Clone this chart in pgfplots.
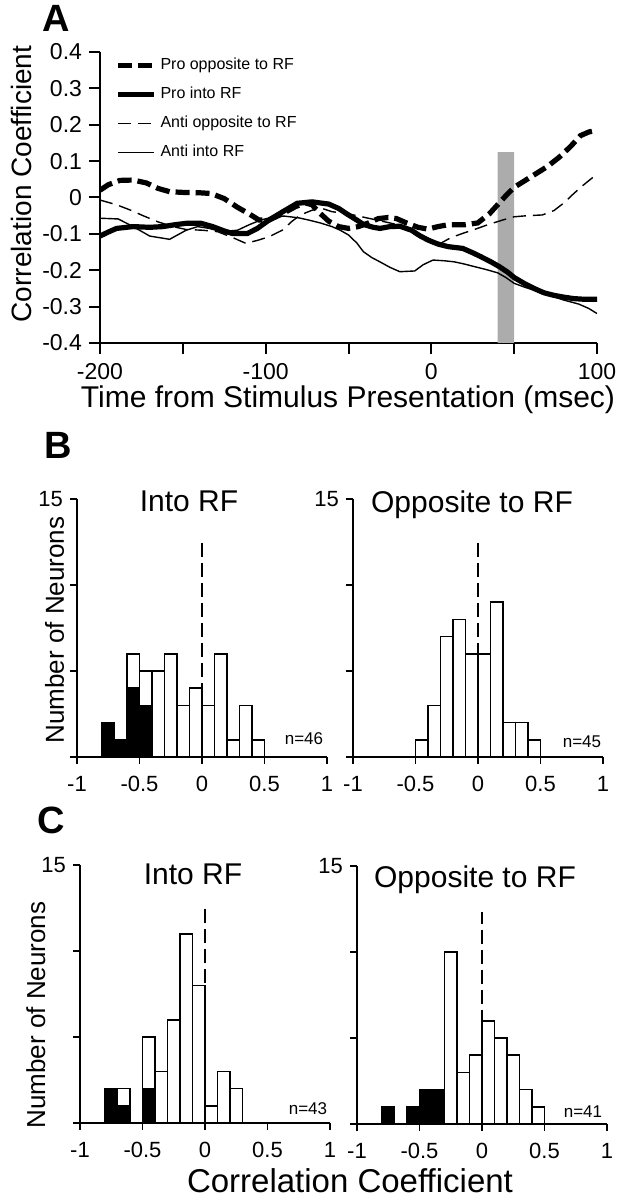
\documentclass[border=0pt]{standalone}
\usepackage{fontspec}
\setmainfont{Liberation Sans}
\usepackage{pgfplots}
\pgfplotsset{compat=1.18}

\pgfplotsset{
  hist/.style={
    scale only axis, width=125pt, height=129pt, anchor=south west,
    xmin=-1, xmax=1, ymin=0, ymax=15,
    axis x line=bottom, axis y line=left, axis line style={-, line width=0.9pt},
    xtick={-1,-0.5,0,0.5,1}, xticklabels={-1,-0.5,0,0.5,1},
    ytick={0,5,10,15}, yticklabels={,,,15},
    tick align=outside, major tick length=3.5pt,
    tick style={line width=0.9pt, black},
    ticklabel style={font=\fontsize{11}{13}\selectfont},
    xticklabel style={yshift=-2.5pt},
    /pgf/number format/assume math mode=true,
    clip=false,
  },
  tot/.style={ybar, bar width=0.1, bar shift=0pt, fill=white, draw=black, line width=0.8pt},
  blk/.style={ybar, bar width=0.1, bar shift=0pt, fill=black, draw=black, line width=0.8pt},
  zero/.style={line width=1.1pt, dash pattern=on 7pt off 3pt},
}

\begin{document}
\begin{tikzpicture}
\path[use as bounding box] (0pt,0pt) rectangle (310pt,600pt);

% ---------------- Panel A ----------------
\begin{axis}[
  at={(50pt,428.5pt)}, anchor=south west, scale only axis, width=248.5pt, height=145.5pt,
  xmin=-200, xmax=100, ymin=-0.4, ymax=0.4,
  axis x line=bottom, axis y line=left, axis line style={-, line width=1pt},
  xtick={-200,-150,-100,-50,0,50,100}, xticklabels={-200,,-100,,0,,100},
  ytick={-0.4,-0.3,-0.2,-0.1,0,0.1,0.2,0.3,0.4},
  yticklabels={-0.4,-0.3,-0.2,-0.1,0,0.1,0.2,0.3,0.4},
  tick align=outside, major tick length=5.5pt,
  tick style={line width=1pt, black},
  ticklabel style={font=\fontsize{11.5}{13}\selectfont},
  xticklabel style={yshift=-1pt},
  /pgf/number format/assume math mode=true,
  legend style={at={(axis description cs:0.03,0.995)}, anchor=north west, draw=none, fill=none,
    font=\fontsize{8}{9.6}\selectfont, row sep=3pt, inner sep=0pt,
    nodes={text height=6pt, text depth=1.5pt, inner sep=2pt}},
  legend cell align=left,
  legend image code/.code={\draw[#1] (0pt,0pt) -- (18pt,0pt);},
]
\addplot[fill=gray!65, draw=none, forget plot] coordinates {(40,-0.4) (40,0.125) (50,0.125) (50,-0.4) (40,-0.4)};

\addplot[line width=2.6pt, dash pattern=on 7pt off 3pt] coordinates {
(-200,0.02) (-195,0.035) (-188,0.047) (-180,0.048) (-172,0.04) (-165,0.025) (-158,0.016)
(-150,0.014) (-140,0.013) (-133,0.011) (-125,-0.003) (-117,-0.027) (-110,-0.045) (-104,-0.062)
(-98,-0.062) (-90,-0.045) (-82,-0.025) (-76,-0.015) (-72,-0.02) (-68,-0.04) (-62,-0.065)
(-56,-0.08) (-50,-0.085) (-44,-0.08) (-38,-0.07) (-32,-0.058) (-26,-0.055) (-21,-0.058)
(-15,-0.07) (-8,-0.082) (-2,-0.087) (4,-0.08) (10,-0.075) (20,-0.075) (28,-0.07)
(35,-0.045) (40,-0.02) (45,0.005) (50,0.028) (56,0.045) (63,0.065) (70,0.085) (77,0.11)
(84,0.14) (90,0.17) (95,0.18) (100,0.185)};
\addlegendentry{Pro opposite to RF}

\addplot[line width=2.6pt] coordinates {
(-200,-0.106) (-195,-0.095) (-190,-0.085) (-180,-0.08) (-170,-0.082) (-162,-0.08) (-155,-0.075)
(-148,-0.071) (-139,-0.071) (-132,-0.08) (-125,-0.092) (-120,-0.099) (-111,-0.099) (-105,-0.085)
(-98,-0.062) (-90,-0.04) (-81,-0.016) (-72,-0.012) (-62,-0.018) (-56,-0.03) (-50,-0.048)
(-45,-0.062) (-41,-0.074) (-35,-0.082) (-31,-0.085) (-25,-0.08) (-19,-0.079) (-12,-0.09)
(-7,-0.105) (-2,-0.117) (4,-0.128) (10,-0.135) (19,-0.14) (25,-0.152) (30,-0.163) (36,-0.177)
(41,-0.19) (46,-0.205) (50,-0.22) (56,-0.236) (62,-0.25) (68,-0.262) (74,-0.269) (80,-0.274)
(86,-0.278) (93,-0.28) (100,-0.28)};
\addlegendentry{Pro into RF}

\addplot[line width=0.7pt, dash pattern=on 6.5pt off 3.5pt] coordinates {
(-200,-0.007) (-190,-0.02) (-182,-0.034) (-174,-0.05) (-165,-0.067) (-156,-0.08) (-148,-0.088)
(-138,-0.09) (-129,-0.094) (-120,-0.11) (-112,-0.126) (-105,-0.118) (-98,-0.108) (-90,-0.09)
(-84,-0.065) (-79,-0.048) (-72,-0.035) (-66,-0.03) (-60,-0.039) (-50,-0.045) (-40,-0.055)
(-30,-0.065) (-20,-0.075) (-12,-0.09) (-5,-0.105) (2,-0.122) (6,-0.125) (12,-0.11) (20,-0.097)
(26,-0.088) (34,-0.075) (43,-0.062) (50,-0.053) (58,-0.05) (67,-0.048) (74,-0.036) (80,-0.015)
(86,0.011) (92,0.035) (98,0.057)};
\addlegendentry{Anti opposite to RF}

\addplot[line width=0.7pt] coordinates {
(-200,-0.057) (-189,-0.059) (-180,-0.08) (-170,-0.106) (-158,-0.115) (-148,-0.09) (-141,-0.08)
(-134,-0.085) (-127,-0.094) (-117,-0.09) (-110,-0.075) (-103,-0.062) (-95,-0.053) (-89,-0.051)
(-80,-0.056) (-74,-0.062) (-67,-0.07) (-60,-0.08) (-55,-0.09) (-50,-0.103) (-45,-0.125)
(-41,-0.149) (-36,-0.165) (-31,-0.177) (-25,-0.192) (-19,-0.204) (-10,-0.202) (-5,-0.185)
(1,-0.172) (8,-0.174) (14,-0.177) (20,-0.183) (26,-0.19) (33,-0.198) (40,-0.207) (45,-0.22)
(50,-0.236) (56,-0.246) (62,-0.255) (68,-0.265) (74,-0.273) (80,-0.282) (89,-0.293)
(95,-0.305) (100,-0.319)};
\addlegendentry{Anti into RF}
\end{axis}

% ---------------- Panel B left ----------------
\begin{axis}[hist, at={(38.5pt,221.5pt)}]
\addplot[zero] coordinates {(0,0) (0,12.5)};
\addplot[tot] coordinates {(-0.75,2) (-0.65,1) (-0.55,6) (-0.45,5) (-0.35,5) (-0.25,6) (-0.15,3)
 (-0.05,4) (0.05,3) (0.15,6) (0.25,1) (0.35,3) (0.45,1)};
\addplot[blk] coordinates {(-0.75,2) (-0.65,1) (-0.55,4) (-0.45,3)};
\end{axis}

% ---------------- Panel B right ----------------
\begin{axis}[hist, at={(176.5pt,221.5pt)}]
\addplot[zero] coordinates {(0,0) (0,12.5)};
\addplot[tot] coordinates {(-0.45,1) (-0.35,3) (-0.25,7) (-0.15,8) (-0.05,6) (0.05,6) (0.15,9)
 (0.25,2) (0.35,2) (0.45,1)};
\end{axis}

% ---------------- Panel C left ----------------
\begin{axis}[hist, at={(40pt,38.5pt)}]
\addplot[zero] coordinates {(0,0) (0,12.5)};
\addplot[tot] coordinates {(-0.75,2) (-0.65,2) (-0.45,5) (-0.35,3) (-0.25,6) (-0.15,11) (-0.05,8)
 (0.05,1) (0.15,3) (0.25,2)};
\addplot[blk] coordinates {(-0.75,2) (-0.65,1) (-0.45,2)};
\end{axis}

% ---------------- Panel C right ----------------
\begin{axis}[hist, at={(178.5pt,38pt)}]
\addplot[zero] coordinates {(0,0) (0,12.3)};
\addplot[tot] coordinates {(-0.25,10) (-0.15,3) (-0.05,4) (0.05,6) (0.15,5) (0.25,4) (0.35,2) (0.45,1)};
\addplot[blk] coordinates {(-0.75,1) (-0.55,1) (-0.45,2) (-0.35,2)};
\end{axis}

% ---------------- Text ----------------
\node[anchor=base west, font=\fontsize{19}{22}\selectfont\bfseries, inner sep=0pt] at (21pt,584pt) {A};
\node[anchor=base west, font=\fontsize{19}{22}\selectfont\bfseries, inner sep=0pt] at (22pt,370.5pt) {B};
\node[anchor=base west, font=\fontsize{19}{22}\selectfont\bfseries, inner sep=0pt] at (18.5pt,183pt) {C};

\node[anchor=base, rotate=90, font=\fontsize{14}{16}\selectfont, inner sep=0pt] at (16pt,508pt) {Correlation Coefficient};
\node[anchor=base, font=\fontsize{15}{17}\selectfont, inner sep=0pt] at (174pt,396pt) {Time from Stimulus Presentation (msec)};

\node[anchor=base, font=\fontsize{15}{18}\selectfont, inner sep=0pt] at (94.5pt,344pt) {Into RF};
\node[anchor=base, font=\fontsize{15}{18}\selectfont, inner sep=0pt] at (236pt,343.5pt) {Opposite to RF};
\node[anchor=base, font=\fontsize{15}{18}\selectfont, inner sep=0pt] at (96.5pt,157.5pt) {Into RF};
\node[anchor=base, font=\fontsize{15}{18}\selectfont, inner sep=0pt] at (237.5pt,156pt) {Opposite to RF};

\node[anchor=base, font=\fontsize{8.5}{10}\selectfont, inner sep=0pt] at (152pt,227.5pt) {n=46};
\node[anchor=base, font=\fontsize{8.5}{10}\selectfont, inner sep=0pt] at (291pt,226pt) {n=45};
\node[anchor=base, font=\fontsize{8.5}{10}\selectfont, inner sep=0pt] at (154pt,42.5pt) {n=43};
\node[anchor=base, font=\fontsize{8.5}{10}\selectfont, inner sep=0pt] at (291.5pt,41pt) {n=41};

\node[anchor=base, rotate=90, font=\fontsize{13}{15}\selectfont, inner sep=0pt] at (32pt,285pt) {Number of Neurons};
\node[anchor=base, rotate=90, font=\fontsize{13}{15}\selectfont, inner sep=0pt] at (22.5pt,92.5pt) {Number of Neurons};
\node[anchor=base, font=\fontsize{16.5}{19}\selectfont, inner sep=0pt] at (175pt,4pt) {Correlation Coefficient};
\end{tikzpicture}
\end{document}
